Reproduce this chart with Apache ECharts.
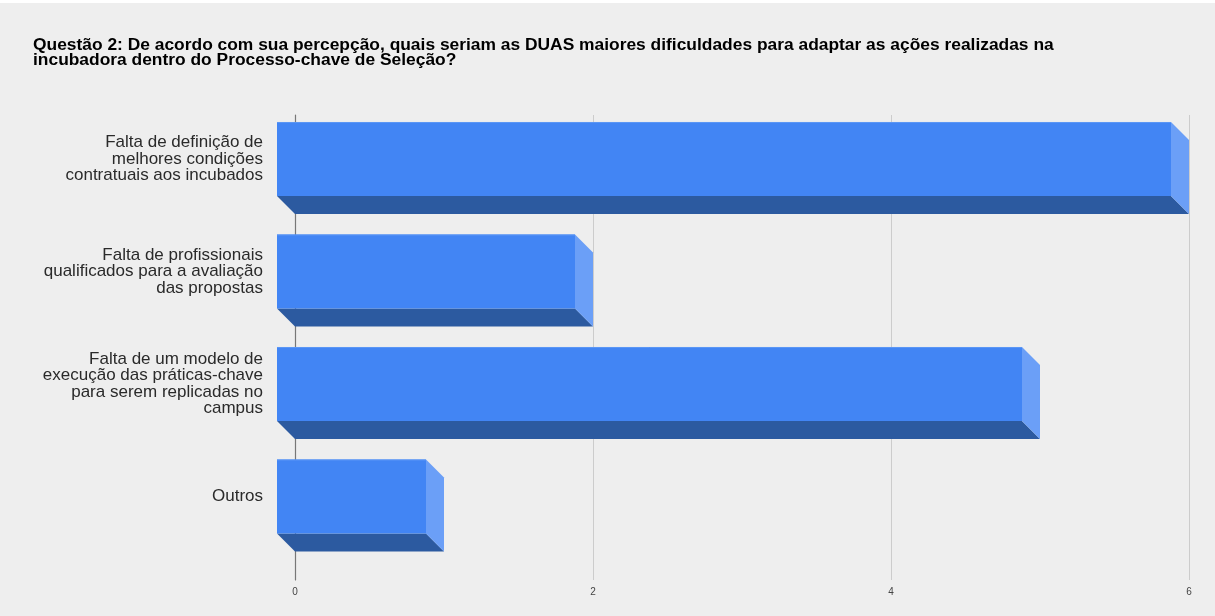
<!DOCTYPE html>
<html>
<head>
<meta charset="utf-8">
<script src="https://cdn.jsdelivr.net/npm/echarts@6/dist/echarts.min.js"></script>
<style>
  html, body { margin: 0; padding: 0; background: #eeeeee; }
  #chart { width: 1215px; height: 616px; }
</style>
</head>
<body>
<div id="chart"></div>
<script>
// Survey answers: number of respondents per difficulty
const categories = [
  'Falta de definição de\nmelhores condições\ncontratuais aos incubados',
  'Falta de profissionais\nqualificados para a avaliação\ndas propostas',
  'Falta de um modelo de\nexecução das práticas-chave\npara serem replicadas no\ncampus',
  'Outros'
];
const counts = [6, 2, 5, 1];
const tickValues = [0, 2, 4, 6];

const titleText = 'Questão 2: De acordo com sua percepção, quais seriam as DUAS maiores dificuldades para adaptar as ações realizadas na\nincubadora dentro do Processo-chave de Seleção?';

const FONT = '"Liberation Sans", Arial, sans-serif';
const DEPTH = 18;          // 3D extrusion offset in px
const BAR_RATIO = 0.658;   // front-face height relative to the category band

const chart = echarts.init(document.getElementById('chart'), null, { renderer: 'canvas' });

function renderBar3D(params, api) {
  const i = api.value(0);
  const v = api.value(1);
  const p0 = api.coord([0, i]);
  const p1 = api.coord([v, i]);
  const h = api.size([0, 1])[1] * BAR_RATIO;
  const x0 = p0[0], x1 = p1[0];
  const yT = p0[1] - h / 2, yB = p0[1] + h / 2;
  const d = DEPTH;
  return {
    type: 'group',
    children: [
      { // bottom face
        type: 'polygon',
        shape: { points: [[x0, yB], [x1, yB], [x1 + d, yB + d], [x0 + d, yB + d]] },
        style: { fill: '#2c5aa0' }
      },
      { // right side face
        type: 'polygon',
        shape: { points: [[x1, yT], [x1 + d, yT + d], [x1 + d, yB + d], [x1, yB]] },
        style: { fill: '#6b9ff7' }
      },
      { // front face
        type: 'rect',
        shape: { x: x0, y: yT, width: x1 - x0, height: h },
        style: { fill: '#4285f4' }
      },
      { // subtle highlight along the top edge
        type: 'line',
        shape: { x1: x0, y1: yT + 0.5, x2: x1, y2: yT + 0.5 },
        style: { stroke: '#5b97f6', lineWidth: 1 }
      }
    ]
  };
}

const option = {
  backgroundColor: '#eeeeee',
  animation: false,
  title: {
    text: titleText,
    left: 33,
    top: 37,
    padding: 0,
    textStyle: {
      fontFamily: FONT,
      fontSize: 17.4,
      fontWeight: 'bold',
      color: '#000000',
      lineHeight: 15.5
    }
  },
  graphic: [
    { type: 'rect', left: 0, top: 0, shape: { width: 1215, height: 3 }, style: { fill: '#ffffff' }, silent: true }
  ],
  grid: [
    // front plane of the bars
    { left: 277, right: 44, top: 102.75, bottom: 63.25 },
    // back plane carrying the gridlines and tick labels
    { left: 295, right: 26, top: 115, bottom: 36 }
  ],
  xAxis: [
    {
      gridIndex: 0, type: 'value', min: 0, max: 6, interval: 2,
      show: false
    },
    {
      gridIndex: 1, type: 'value', min: 0, max: 6, interval: 2,
      axisLine: { show: false },
      axisTick: { show: false },
      splitLine: { show: true, lineStyle: { color: '#cccccc', width: 1 } },
      axisLabel: {
        margin: 7,
        fontFamily: FONT,
        fontSize: 10,
        color: '#444444',
        customValues: tickValues
      }
    }
  ],
  yAxis: [
    {
      gridIndex: 0, type: 'category', inverse: true, data: categories,
      axisLine: { show: false },
      axisTick: { show: false },
      splitLine: { show: false },
      axisLabel: {
        margin: 14,
        fontFamily: FONT,
        fontSize: 17,
        lineHeight: 16.5,
        color: '#2a2a2a',
        align: 'right'
      }
    },
    {
      gridIndex: 1, type: 'value', min: 0, max: 1,
      axisLine: { show: true, lineStyle: { color: '#777777', width: 1.2 } },
      axisTick: { show: false },
      axisLabel: { show: false },
      splitLine: { show: false }
    }
  ],
  series: [
    {
      type: 'custom',
      xAxisIndex: 0,
      yAxisIndex: 0,
      renderItem: renderBar3D,
      encode: { x: 1, y: 0 },
      data: counts.map((v, i) => [i, v]),
      z: 3
    }
  ]
};

chart.setOption(option);
</script>
</body>
</html>
